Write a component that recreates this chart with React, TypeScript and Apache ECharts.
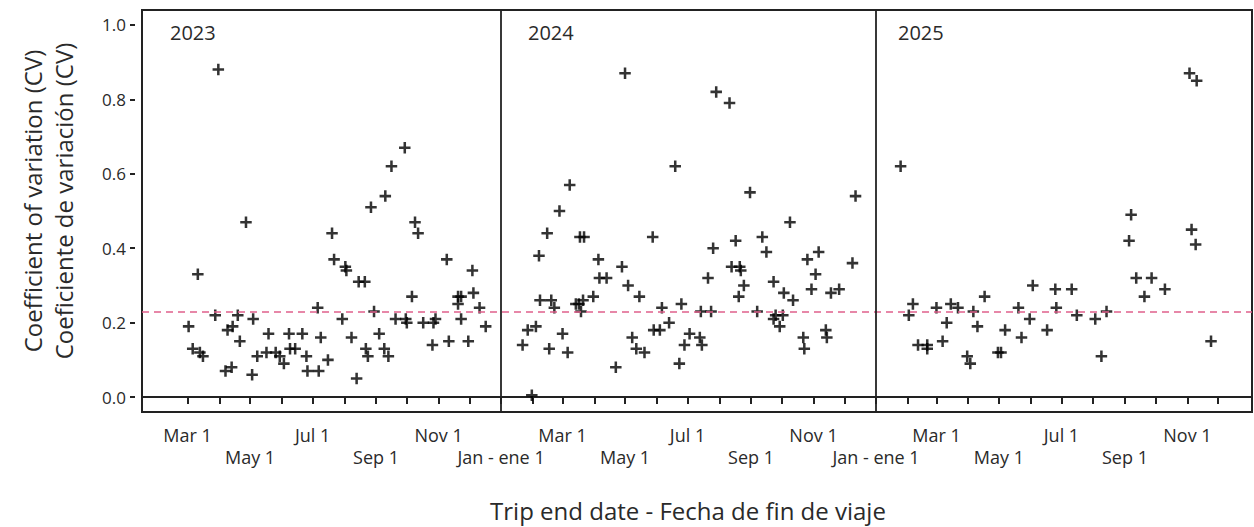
import { useEffect, useRef } from "react";
import * as echarts from "echarts";

// Day of year (0 = Jan 1) of each trip's end date, and its coefficient of variation
const tripDay2023 = [60, 64, 69, 71, 74, 86, 89, 96, 98, 102, 103, 108, 110, 116, 122, 123, 127, 136, 138, 145, 149, 153, 158, 159, 164, 171, 175, 176, 186, 187, 189, 196, 200, 202, 210, 213, 214, 219, 224, 226, 232, 233, 235, 238, 241, 246, 251, 252, 255, 258, 262, 271, 272, 273, 278, 281, 284, 289, 298, 299, 301, 312, 314, 323, 323, 326, 326, 333, 337, 338, 344, 350];
const cv2023 = [0.19, 0.13, 0.33, 0.12, 0.11, 0.22, 0.88, 0.07, 0.18, 0.08, 0.19, 0.22, 0.15, 0.47, 0.06, 0.21, 0.11, 0.12, 0.17, 0.12, 0.11, 0.09, 0.17, 0.13, 0.13, 0.17, 0.11, 0.07, 0.24, 0.07, 0.16, 0.10, 0.44, 0.37, 0.21, 0.35, 0.34, 0.16, 0.05, 0.31, 0.31, 0.13, 0.11, 0.51, 0.23, 0.17, 0.13, 0.54, 0.11, 0.62, 0.21, 0.67, 0.21, 0.20, 0.27, 0.47, 0.44, 0.20, 0.14, 0.20, 0.21, 0.37, 0.15, 0.27, 0.25, 0.27, 0.21, 0.15, 0.34, 0.28, 0.24, 0.19];

const tripDay2024 = [21, 26, 30, 34, 37, 38, 45, 47, 49, 52, 57, 60, 65, 67, 73, 76, 77, 78, 80, 81, 90, 95, 96, 103, 112, 118, 121, 124, 128, 132, 135, 140, 148, 149, 155, 157, 164, 170, 174, 176, 179, 184, 194, 195, 196, 202, 205, 207, 210, 223, 225, 229, 232, 233, 234, 237, 243, 250, 255, 259, 266, 266, 268, 272, 275, 276, 282, 285, 295, 296, 299, 303, 307, 310, 317, 318, 322, 330, 343, 346];
const cv2024 = [0.14, 0.18, 0.005, 0.19, 0.38, 0.26, 0.44, 0.13, 0.26, 0.24, 0.50, 0.17, 0.12, 0.57, 0.25, 0.25, 0.43, 0.23, 0.26, 0.43, 0.27, 0.37, 0.32, 0.32, 0.08, 0.35, 0.87, 0.30, 0.16, 0.13, 0.27, 0.12, 0.43, 0.18, 0.18, 0.24, 0.20, 0.62, 0.09, 0.25, 0.14, 0.17, 0.16, 0.23, 0.14, 0.32, 0.23, 0.40, 0.82, 0.79, 0.35, 0.42, 0.27, 0.35, 0.34, 0.30, 0.55, 0.23, 0.43, 0.39, 0.31, 0.21, 0.22, 0.19, 0.22, 0.28, 0.47, 0.26, 0.16, 0.13, 0.37, 0.29, 0.33, 0.39, 0.18, 0.16, 0.28, 0.29, 0.36, 0.54];

const tripDay2025 = [24, 32, 36, 41, 50, 50, 59, 65, 69, 73, 80, 89, 92, 95, 99, 106, 119, 122, 126, 139, 142, 150, 153, 167, 175, 176, 191, 196, 214, 220, 225, 247, 249, 254, 262, 269, 282, 306, 308, 312, 313, 327];
const cv2025 = [0.62, 0.22, 0.25, 0.14, 0.14, 0.13, 0.24, 0.15, 0.20, 0.25, 0.24, 0.11, 0.09, 0.23, 0.19, 0.27, 0.12, 0.12, 0.18, 0.24, 0.16, 0.21, 0.30, 0.18, 0.29, 0.24, 0.29, 0.22, 0.21, 0.11, 0.23, 0.42, 0.49, 0.32, 0.27, 0.32, 0.29, 0.87, 0.45, 0.41, 0.85, 0.15];

const years = [2023, 2024, 2025];
const meanCV = 0.232;
const yTickValues = [0, 0.2, 0.4, 0.6, 0.8, 1.0];
// month index -> tick label text
const monthLabelText: Record<number, string> = { 0: "Jan - ene 1", 2: "Mar 1", 4: "May 1", 6: "Jul 1", 8: "Sep 1", 10: "Nov 1" };
const lowerRowMonths = [0, 4, 8];
const yTitle = "Coefficient of variation (CV)\nCoeficiente de variación (CV)";
const xTitle = "Trip end date - Fecha de fin de viaje";

const FONT = "'Open Sans', 'Noto Sans', sans-serif";
const TEXT = "#2a2a2a";
const PLUS = "path://M3.9,0H6.1V3.9H10V6.1H6.1V10H3.9V6.1H0V3.9H3.9Z";

export default function App() {
  const ref = useRef<HTMLDivElement>(null);
  useEffect(() => {
    if (!ref.current) return;
    const chart = echarts.init(ref.current, undefined, { renderer: "svg" });

    const dayData = [tripDay2023, tripDay2024, tripDay2025];
    const cvData = [cv2023, cv2024, cv2025];

    // monthly ticks: Mar 2023 .. Dec 2025
    const tickValues: number[] = [];
    const labelValues: number[] = [];
    for (const y of years) {
      for (let m = 0; m < 12; m++) {
        if (y === 2023 && m < 2) continue;
        const t = Date.UTC(y, m, 1);
        tickValues.push(t);
        if (monthLabelText[m] !== undefined) labelValues.push(t);
      }
    }

    const series: any[] = years.map((y, k) => ({
      type: "scatter",
      name: String(y),
      symbol: PLUS,
      symbolSize: 11.5,
      itemStyle: { color: "#000" },
      data: dayData[k].map((d, i) => [Date.UTC(y, 0, 1 + d), cvData[k][i]]),
      z: 3,
    }));
    series[0].markLine = {
      silent: true,
      symbol: "none",
      label: { show: false },
      data: [
        { yAxis: meanCV, lineStyle: { color: "#e0608c", type: [7, 5], width: 1.6 } },
        { xAxis: Date.UTC(2024, 0, 1), lineStyle: { color: "#222", type: "solid", width: 1.8 } },
        { xAxis: Date.UTC(2025, 0, 1), lineStyle: { color: "#222", type: "solid", width: 1.8 } },
      ],
    };

    chart.setOption({
      animation: false,
      grid: {
        left: 142,
        right: 2,
        top: 10,
        bottom: 115,
        show: true,
        borderColor: "#222",
        borderWidth: 2,
        backgroundColor: "transparent",
      },
      xAxis: {
        type: "value",
        min: Date.UTC(2023, 0, 15, 12),
        max: Date.UTC(2026, 0, 3),
        splitLine: { show: false },
        axisLine: { show: true, lineStyle: { color: "#222", width: 2 } },
        axisTick: {
          show: true,
          customValues: tickValues,
          length: 7,
          lineStyle: { color: "#222", width: 2 },
        },
        axisLabel: {
          customValues: labelValues,
          margin: 12,
          fontFamily: FONT,
          fontSize: 18,
          lineHeight: 22,
          color: TEXT,
          showMinLabel: true,
          showMaxLabel: true,
          formatter: (value: number) => {
            const m = new Date(value).getUTCMonth();
            const txt = monthLabelText[m] ?? "";
            return lowerRowMonths.includes(m) ? "\n" + txt : txt;
          },
        },
      },
      yAxis: {
        type: "value",
        min: -0.04,
        max: 1.04,
        splitLine: { show: false },
        axisLine: { show: false },
        axisTick: {
          show: true,
          customValues: yTickValues,
          length: 12,
          // gap of 7px next to the frame, then a 5px tick
          lineStyle: { color: "#222", width: 2, type: [0, 7, 5] },
        },
        axisLabel: {
          customValues: yTickValues,
          margin: 16,
          fontFamily: FONT,
          fontSize: 17,
          color: TEXT,
          formatter: (v: number) => v.toFixed(1),
        },
      },
      graphic: [
        {
          type: "text",
          x: 47.5,
          y: 201,
          rotation: Math.PI / 2,
          style: {
            text: yTitle,
            font: `24px ${FONT}`,
            fill: TEXT,
            lineHeight: 31,
            textAlign: "center",
            textVerticalAlign: "middle",
          },
        },
        {
          type: "text",
          x: 688,
          y: 510,
          style: {
            text: xTitle,
            font: `24px ${FONT}`,
            fill: TEXT,
            textAlign: "center",
            textVerticalAlign: "middle",
          },
        },
        ...years.map((y, i) => ({
          type: "text",
          x: [170, 528, 898][i],
          y: 32,
          style: {
            text: String(y),
            font: `20px ${FONT}`,
            fill: TEXT,
            textAlign: "left",
            textVerticalAlign: "middle",
          },
        })),
      ],
      series,
    });
    return () => chart.dispose();
  }, []);
  return <div ref={ref} style={{ position: "absolute", left: 0, top: 0, width: 1254, height: 527 }} />;
}
